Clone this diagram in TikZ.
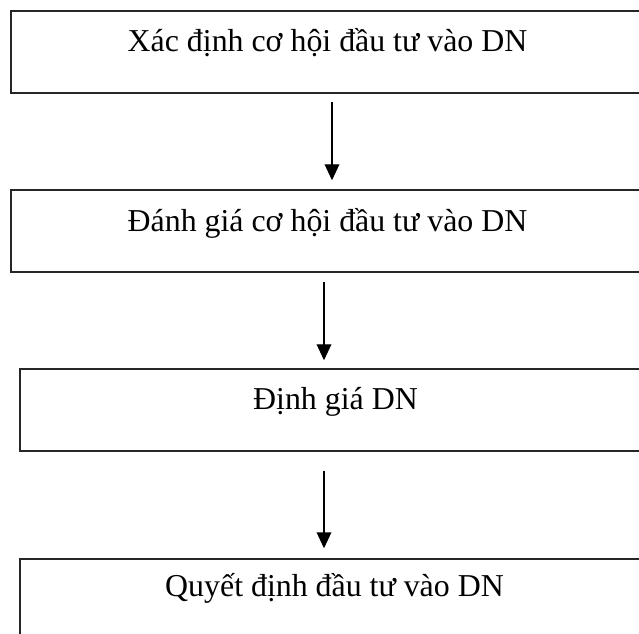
\documentclass[tikz,border=0pt]{standalone}
\usepackage{fontspec}
\setmainfont{Liberation Serif}
\usetikzlibrary{arrows.meta}
\begin{document}
\begin{tikzpicture}[x=0.75pt,y=-0.75pt,
  box/.style={draw=black!85,line width=1.1pt,rectangle,inner sep=0pt,minimum height=61.5pt},
  label/.style={anchor=base,inner sep=0pt,font=\fontsize{23.9}{28}\selectfont},
  arr/.style={line width=1.1pt,-{Triangle[width=11pt,length=12pt]}}]
\useasboundingbox (0,0) rectangle (639,634);
\clip (0,0) rectangle (639,634);
\fill[white] (0,0) rectangle (639,634);
\node[box,minimum width=516.75pt] (b1) at (355.5,52) {};
\node[box,minimum width=516.75pt] (b2) at (355.5,231) {};
\node[box,minimum width=510pt] (b3) at (360,410) {};
\node[box,minimum width=510pt] (b4) at (360,600) {};
\node[label] (t1) at (327.5,52) {Xác định cơ hội đầu tư vào DN};
\node[label] (t2) at (327.5,232) {Đánh giá cơ hội đầu tư vào DN};
\node[label] (t3) at (335.5,410) {Định giá DN};
\node[label] (t4) at (334.5,596) {Quyết định đầu tư vào DN};
\draw[arr,shorten <=6pt,shorten >=6.75pt] (b1.south -| 332,0) -- (b2.north -| 332,0);
\draw[arr,shorten <=6.75pt,shorten >=6pt] (b2.south -| 324,0) -- (b3.north -| 324,0);
\draw[arr,shorten <=14.25pt,shorten >=7.5pt] (b3.south -| 324,0) -- (b4.north -| 324,0);
\end{tikzpicture}
\end{document}
